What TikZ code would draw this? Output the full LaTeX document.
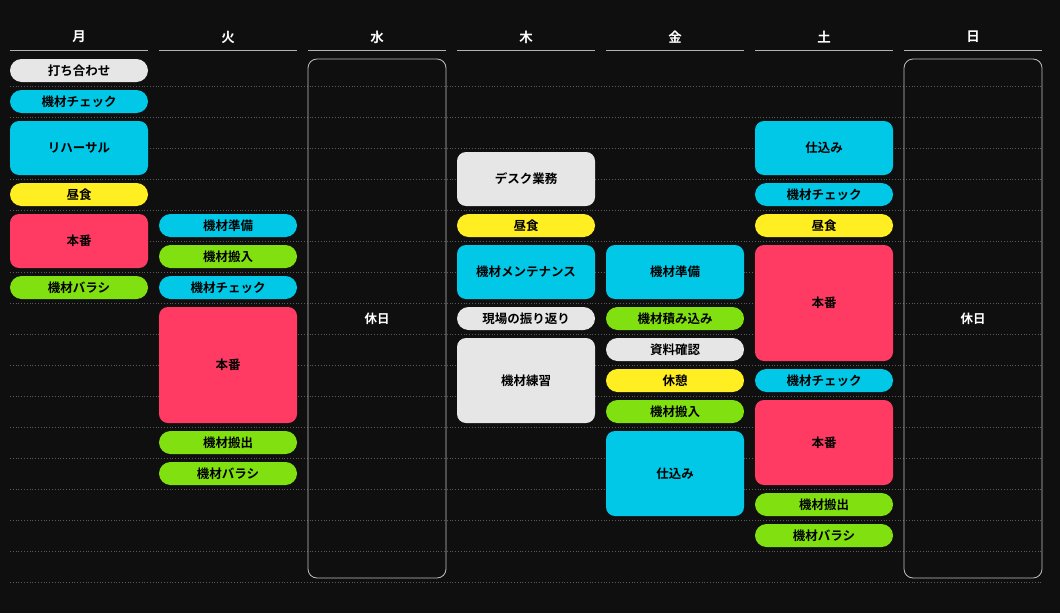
\documentclass[tikz,border=0pt]{standalone}
\usepackage{fontspec}
\newfontfamily\jp{Noto Sans CJK JP}[BoldFont={* Bold}]
\definecolor{bg}{HTML}{0F0F0F}
\definecolor{cgray}{HTML}{E6E6E6}
\definecolor{ccyan}{HTML}{00C8E6}
\definecolor{cyel}{HTML}{FFEE22}
\definecolor{cred}{HTML}{FF3B64}
\definecolor{cgreen}{HTML}{80E010}
\definecolor{grid}{HTML}{5A5A5A}
\tikzset{
 ev/.style={inner sep=0pt,minimum width=138pt,font=\jp\fontsize{12.5}{14}\selectfont\bfseries,text=black},
 gray/.style={fill=cgray},cyan/.style={fill=ccyan},yel/.style={fill=cyel},red/.style={fill=cred},green/.style={fill=cgreen},
 hdr/.style={text=white,font=\jp\fontsize{13.5}{15}\selectfont\bfseries},
 off/.style={draw=white!75!black,line width=0.8pt,rounded corners=9pt,minimum width=138pt,minimum height=519pt,inner sep=0pt,text=white,font=\jp\fontsize{12.5}{14}\selectfont\bfseries}
}
% name, col, k, n, style, text
\newcommand\ev[6]{%
 \pgfmathsetmacro\cx{79+149*#2}\pgfmathsetmacro\cy{59+31*#3+(31*#4-8)/2}%
 \pgfmathsetmacro\hh{31*#4-8}%
 \ifnum#4=1\def\rr{11.5pt}\else\def\rr{9pt}\fi
 \node[ev,#5,rounded corners=\rr,minimum height=\hh pt] (#1) at (\cx,\cy) {#6};}
\begin{document}
\begin{tikzpicture}[x=1pt,y=-1pt]
\fill[bg] (0,0) rectangle (1060,613);
\useasboundingbox (0,0) rectangle (1060,613);
\foreach \k in {1,...,17}{\draw[grid,dotted,line width=0.8pt] (10,55+31*\k) -- (1042,55+31*\k);}
\foreach \d [count=\i from 0] in {月,火,水,木,金,土,日}{
 \node[hdr] (h\i) at (79+149*\i,37) {\d};
 \draw[white!70!black,line width=0.8pt] (10+149*\i,50.5) -- (148+149*\i,50.5);}
% Mon
\ev{a1}{0}{0}{1}{gray}{打ち合わせ}
\ev{a2}{0}{1}{1}{cyan}{機材チェック}
\ev{a3}{0}{2}{2}{cyan}{リハーサル}
\ev{a4}{0}{4}{1}{yel}{昼食}
\ev{a5}{0}{5}{2}{red}{本番}
\ev{a6}{0}{7}{1}{green}{機材バラシ}
% Tue
\ev{b1}{1}{5}{1}{cyan}{機材準備}
\ev{b2}{1}{6}{1}{green}{機材搬入}
\ev{b3}{1}{7}{1}{cyan}{機材チェック}
\ev{b4}{1}{8}{4}{red}{本番}
\ev{b5}{1}{12}{1}{green}{機材搬出}
\ev{b6}{1}{13}{1}{green}{機材バラシ}
% Wed
\node[off] (wed) at (377,318.5) {休日};
% Thu
\ev{d1}{3}{3}{2}{gray}{デスク業務}
\ev{d2}{3}{5}{1}{yel}{昼食}
\ev{d3}{3}{6}{2}{cyan}{機材メンテナンス}
\ev{d4}{3}{8}{1}{gray}{現場の振り返り}
\ev{d5}{3}{9}{3}{gray}{機材練習}
% Fri
\ev{e1}{4}{6}{2}{cyan}{機材準備}
\ev{e2}{4}{8}{1}{green}{機材積み込み}
\ev{e3}{4}{9}{1}{gray}{資料確認}
\ev{e4}{4}{10}{1}{yel}{休憩}
\ev{e5}{4}{11}{1}{green}{機材搬入}
\ev{e6}{4}{12}{3}{cyan}{仕込み}
% Sat
\ev{f1}{5}{2}{2}{cyan}{仕込み}
\ev{f2}{5}{4}{1}{cyan}{機材チェック}
\ev{f3}{5}{5}{1}{yel}{昼食}
\ev{f4}{5}{6}{4}{red}{本番}
\ev{f5}{5}{10}{1}{cyan}{機材チェック}
\ev{f6}{5}{11}{3}{red}{本番}
\ev{f7}{5}{14}{1}{green}{機材搬出}
\ev{f8}{5}{15}{1}{green}{機材バラシ}
% Sun
\node[off] (sun) at (973,318.5) {休日};
\end{tikzpicture}
\end{document}
